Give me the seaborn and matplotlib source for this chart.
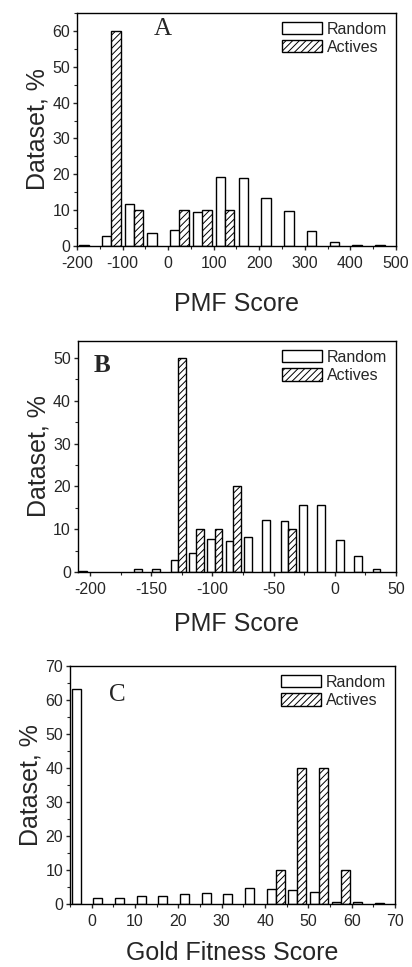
import matplotlib
matplotlib.use("Agg")
import matplotlib.pyplot as plt
import seaborn as sns
from matplotlib.patches import Patch
from matplotlib.ticker import MultipleLocator

# Panel A: PMF score, full range
a_rand_x = [-185, -135, -85, -35, 15, 65, 115, 165, 215, 265, 315, 365, 415, 465]
a_rand_y = [0.3, 2.8, 11.6, 3.7, 4.6, 9.4, 19.3, 19.0, 13.4, 9.7, 4.1, 1.1, 0.3, 0.2]
a_act_x = [-115, -65, 35, 85, 135]
a_act_y = [60, 10, 10, 10, 10]

# Panel B: PMF score, zoomed
b_rand_x = [-206, -161, -146, -131, -116, -101, -86, -71, -56, -41, -26, -11, 4, 19, 34]
b_rand_y = [0.3, 0.7, 0.7, 2.9, 4.4, 7.8, 7.2, 8.2, 12.1, 12.0, 15.6, 15.6, 7.4, 3.7, 0.7]
b_act_x = [-125, -110, -95, -80, -35]
b_act_y = [50, 10, 10, 20, 10]

# Panel C: Gold fitness score
c_rand_x = [-3.6, 1.4, 6.4, 11.4, 16.4, 21.4, 26.4, 31.4, 36.4, 41.4, 46.4, 51.4, 56.4, 61.4, 66.4]
c_rand_y = [63.3, 1.7, 1.7, 2.3, 2.3, 2.8, 3.3, 2.8, 4.8, 4.3, 4.1, 3.4, 0.7, 0.5, 0.4]
c_act_x = [43.5, 48.5, 53.5, 58.5]
c_act_y = [10, 40, 40, 10]

sns.set_style("ticks")
plt.rcParams['font.family'] = ['Liberation Sans', 'DejaVu Sans']
plt.rcParams['hatch.linewidth'] = 0.7
plt.rcParams['axes.unicode_minus'] = False

fig = plt.figure(figsize=(4.12, 9.67), dpi=100)

panels = [
    dict(rect=[0.187, 0.7456, 0.774, 0.241], rx=a_rand_x, ry=a_rand_y, ax_=a_act_x, ay=a_act_y,
         xlim=(-200, 500), ylim=(0, 65), xmaj=100, ymaj=10, xlabel="PMF Score", tag="A",
         tagpos=(0.24, 0.93), tagw='normal', lpad=15),
    dict(rect=[0.189, 0.4085, 0.772, 0.2389], rx=b_rand_x, ry=b_rand_y, ax_=b_act_x, ay=b_act_y,
         xlim=(-210, 50), ylim=(0, 54), xmaj=50, ymaj=10, xlabel="PMF Score", tag="B",
         tagpos=(0.05, 0.895), tagw='bold', lpad=11),
    dict(rect=[0.170, 0.0652, 0.789, 0.246], rx=c_rand_x, ry=c_rand_y, ax_=c_act_x, ay=c_act_y,
         xlim=(-5, 70), ylim=(0, 70), xmaj=10, ymaj=10, xlabel="Gold Fitness Score", tag="C",
         tagpos=(0.12, 0.88), tagw='normal', lpad=9),
]

for p in panels:
    ax = fig.add_axes(p['rect'])
    sns.barplot(x=p['rx'], y=p['ry'], native_scale=True, width=0.42, color='white',
                edgecolor='black', linewidth=1.0, ax=ax)
    sns.barplot(x=p['ax_'], y=p['ay'], native_scale=True, width=0.42, color='white',
                edgecolor='black', linewidth=1.0, hatch='/////', ax=ax)
    ax.set_xlim(*p['xlim'])
    ax.set_ylim(*p['ylim'])
    ax.xaxis.set_major_locator(MultipleLocator(p['xmaj']))
    ax.xaxis.set_minor_locator(MultipleLocator(p['xmaj'] / 2))
    ax.yaxis.set_major_locator(MultipleLocator(p['ymaj']))
    ax.yaxis.set_minor_locator(MultipleLocator(p['ymaj'] / 2))
    ax.tick_params(which='major', direction='out', length=3, width=1, labelsize=11.5, pad=2)
    ax.tick_params(axis='x', which='major', pad=4)
    ax.tick_params(which='minor', direction='out', length=2, width=0.8)
    for s in ax.spines.values():
        s.set_linewidth(1.0)
        s.set_color('black')
    ax.set_xlabel(p['xlabel'], fontsize=18, labelpad=p['lpad'])
    ax.set_ylabel("Dataset, %", fontsize=18, labelpad=2)
    ax.text(*p['tagpos'], p['tag'], transform=ax.transAxes, fontsize=18,
            family=['Liberation Serif', 'DejaVu Serif'], fontweight=p['tagw'], va='center')
    handles = [Patch(facecolor='white', edgecolor='black', linewidth=1.0, label='Random'),
               Patch(facecolor='white', edgecolor='black', linewidth=1.0, hatch='/////', label='Actives')]
    ax.legend(handles=handles, loc='upper right', frameon=False, fontsize=11.5,
              handlelength=2.5, handleheight=0.8, handletextpad=0.3, labelspacing=0.2,
              borderaxespad=0.15, bbox_to_anchor=(1.0, 1.0))

fig.savefig("out.png", dpi=100)
